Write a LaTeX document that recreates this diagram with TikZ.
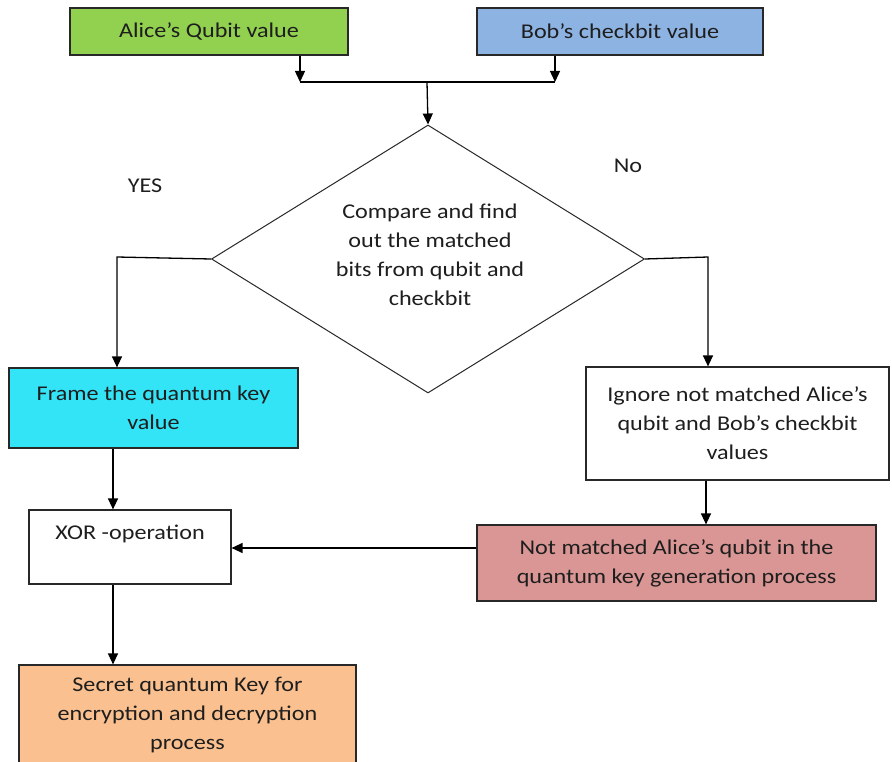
\documentclass[tikz,border=0pt]{standalone}
\usepackage{fontspec}
\setmainfont{Carlito}[FakeStretch=1.15]
\usetikzlibrary{shapes.geometric,arrows.meta}
\definecolor{agreen}{RGB}{146,208,80}
\definecolor{bblue}{RGB}{141,179,226}
\definecolor{fcyan}{RGB}{51,228,246}
\definecolor{nred}{RGB}{217,150,148}
\definecolor{sorange}{RGB}{250,192,143}
\definecolor{txt}{RGB}{30,30,30}
\definecolor{edge}{RGB}{40,40,40}
\begin{document}
\begin{tikzpicture}[x=1pt,y=-1pt,
  box/.style={draw=edge, line width=1.2pt, rectangle, inner sep=0pt, align=center,
    text=txt, font=\fontsize{21}{29}\selectfont},
  lbl/.style={text=txt, font=\fontsize{21}{29}\selectfont, inner sep=0pt},
  arr/.style={line width=1.3pt, draw=black, -{Triangle[length=11pt,width=10pt]}},
  ln/.style={line width=1.3pt, draw=black}]
\useasboundingbox (0,0) rectangle (892,762);
\fill[white] (0,0) rectangle (892,762);

\node[box, fill=agreen, minimum width=278, minimum height=47] (alice) at (209,31.5) {Alice’s Qubit value};
\node[box, fill=bblue, minimum width=286, minimum height=47] (bob) at (620,31.5) {Bob’s checkbit value};

\coordinate (jA) at (300,82);
\coordinate (jB) at (555,82);
\coordinate (j) at (427,82);
\draw[arr] (alice.south -| jA) -- (jA);
\draw[arr] (bob.south -| jB) -- (jB);
\draw[ln] (jA) -- (jB);

\node[box, shape=diamond, draw=edge, line width=1pt, minimum width=433, minimum height=268] (dia) at (428,259) {};
\node[lbl, align=center] (diatext) at (430,255) {Compare and find\\out the matched\\bits from qubit and\\checkbit};
\draw[arr] (j) -- (dia.north);

\node[lbl] (yes) at (145,186) {YES};
\node[lbl] (no) at (628,166) {No};

\node[box, fill=fcyan, minimum width=289, minimum height=80] (frame) at (153.5,408) {Frame the quantum key\\value};
\node[box, fill=white, minimum width=303, minimum height=113] (ign) at (737.5,423.5) {Ignore not matched Alice’s\\qubit and Bob’s checkbit\\values};

\coordinate (yl) at (117,257);
\coordinate (nr) at (708,257);
\draw[arr] (dia.west) -- (yl) -- (frame.north -| yl);
\draw[arr] (dia.east) -- (nr) -- (ign.north -| nr);

\node[box, fill=white, minimum width=202, minimum height=74] (xor) at (130,547) {XOR -operation\\\mbox{}};
\node[box, fill=nred, minimum width=399, minimum height=76] (nm) at (676.5,563) {Not matched Alice’s qubit in the\\quantum key generation process};
\node[box, fill=sorange, minimum width=337, minimum height=99] (sec) at (187.5,714.5) {Secret quantum Key for\\encryption and decryption\\process};

\coordinate (xa) at (113,0);
\coordinate (xb) at (706,0);
\coordinate (ha) at (0,548);
\draw[arr] (frame.south -| xa) -- (xor.north -| xa);
\draw[arr] (ign.south -| xb) -- (nm.north -| xb);
\draw[arr] (nm.west |- ha) -- (xor.east |- ha);
\draw[arr] (xor.south -| xa) -- (sec.north -| xa);
\end{tikzpicture}
\end{document}
